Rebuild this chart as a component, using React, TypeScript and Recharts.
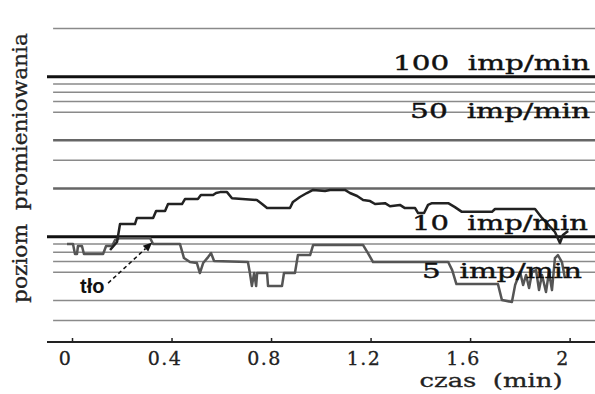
import React from "react";
import { LineChart, Line, XAxis, YAxis, ReferenceLine, Customized } from "recharts";

// czas (min) / poziom (imp/min) – radiation level
const sourceTime = [0.151, 0.179, 0.191, 0.251, 0.259, 0.324, 0.336, 0.372, 0.384, 0.44, 0.452, 0.504, 0.516, 0.565, 0.577, 0.593, 0.621, 0.641, 0.741, 0.762, 0.782, 0.874, 0.886, 0.914, 0.942, 0.967, 1.015, 1.035, 1.095, 1.115, 1.144, 1.168, 1.196, 1.216, 1.256, 1.276, 1.316, 1.336, 1.377, 1.389, 1.413, 1.429, 1.445, 1.51, 1.537, 1.565, 1.686, 1.698, 1.859, 1.887, 1.939, 1.959, 1.971, 1.992];
const sourceLevel = [8.26, 9.27, 12.0, 12.0, 13.1, 13.1, 14.5, 14.5, 16.0, 16.0, 17.2, 17.2, 18.2, 18.2, 18.75, 19.0, 19.0, 17.4, 16.95, 16.0, 15.1, 15.1, 16.5, 17.7, 18.75, 19.6, 19.3, 19.6, 19.6, 18.75, 17.97, 16.95, 16.7, 16.0, 16.2, 15.5, 15.8, 15.1, 15.1, 14.06, 14.06, 15.8, 16.2, 16.2, 15.3, 14.3, 14.3, 14.9, 14.9, 13.1, 10.7, 9.13, 10.25, 10.85];

// tło (background)
const backgroundTime = [-0.022, 0.002, 0.01, 0.018, 0.022, 0.038, 0.046, 0.123, 0.135, 0.159, 0.171, 0.191, 0.312, 0.324, 0.432, 0.448, 0.472, 0.5, 0.512, 0.525, 0.545, 0.557, 0.569, 0.705, 0.713, 0.721, 0.73, 0.738, 0.742, 0.782, 0.786, 0.842, 0.85, 0.894, 0.906, 0.955, 0.967, 1.023, 1.168, 1.185, 1.208, 1.51, 1.526, 1.543, 1.71, 1.726, 1.766, 1.779, 1.799, 1.811, 1.823, 1.835, 1.847, 1.863, 1.875, 1.887, 1.903, 1.915, 1.927, 1.939, 1.951, 1.967, 1.979];
const backgroundLevel = [9.0, 9.0, 7.8, 7.8, 8.75, 8.75, 7.8, 7.8, 8.75, 8.75, 9.54, 9.8, 9.8, 9.0, 9.0, 7.36, 6.95, 6.85, 5.93, 6.85, 7.46, 7.9, 7.05, 6.95, 5.93, 4.92, 5.93, 4.92, 5.93, 5.93, 4.92, 4.92, 5.93, 5.93, 7.68, 7.68, 8.87, 8.87, 8.87, 8.02, 6.95, 6.95, 6.19, 5.06, 5.06, 4.02, 3.91, 4.99, 6.02, 4.99, 5.77, 4.78, 6.02, 6.19, 4.64, 5.77, 4.51, 6.02, 4.64, 7.36, 7.68, 6.95, 5.52];

const xTicks = [0, 0.4, 0.8, 1.2, 1.6, 2];
const xTickLabels = ["0", "0.4", "0.8", "1.2", "1.6", "2"];

const thinLevels = [200, 90, 80, 70, 60, 30, 9, 8, 7, 6, 4, 3];
const mediumLevels = [40, 20];
const thickLevels = [100, 10];

const labelLevels = [100, 50, 10, 5];
const labelTexts = ["100  imp/min", "50  imp/min", "10  imp/min", "5  imp/min"];
const labelWidths = [197, 180, 176, 160];
const labelRightGaps = [5, 5, 7, 13];

const arrowFrom = { t: 0.143, v: 5.13 };
const arrowTo = { t: 0.32, v: 9.2 };

const sourceData = sourceTime.map((t, i) => ({ t, v: sourceLevel[i] }));
const backgroundData = backgroundTime.map((t, i) => ({ t, v: backgroundLevel[i] }));

const SERIF = "'DejaVu Serif', serif";
const GRID_START = -0.078;
const X_END = 2.1;

const XTick = (props: any) => {
  const { x, y, payload } = props;
  const idx = xTicks.indexOf(payload.value);
  const label = idx >= 0 ? xTickLabels[idx] : String(payload.value);
  return (
    <g>
      <line x1={x} x2={x} y1={y - 4} y2={y} stroke="#222" strokeWidth={1.5} />
      <text x={x - 7} y={y + 23} textAnchor="middle" fontFamily={SERIF} fontSize={19} letterSpacing={1.5} fill="#222" stroke="#222" strokeWidth={0.3}>
        {label}
      </text>
    </g>
  );
};

const Arrow = (props: any) => {
  const { x1, y1, x2, y2 } = props;
  const ang = Math.atan2(y2 - y1, x2 - x1);
  const len = 9;
  const w = 4;
  const bx = x2 - len * Math.cos(ang);
  const by = y2 - len * Math.sin(ang);
  const px = -Math.sin(ang) * w;
  const py = Math.cos(ang) * w;
  return (
    <g>
      <line x1={x1} y1={y1} x2={bx} y2={by} stroke="#111" strokeWidth={1.5} strokeDasharray="4 3" />
      <polygon points={`${x2},${y2} ${bx + px},${by + py} ${bx - px},${by - py}`} fill="#111" />
    </g>
  );
};

const Texts = () => (
  <g>
    <text
      x={27}
      y={168}
      transform="rotate(-90 27 168)"
      textAnchor="middle"
      fontFamily={SERIF}
      fontSize={20}
      textLength={270}
      lengthAdjust="spacingAndGlyphs"
      fill="#222"
      stroke="#222"
      strokeWidth={0.3}
      style={{ whiteSpace: "pre" }}
    >
      {"poziom  promieniowania"}
    </text>
    <text
      x={491}
      y={387}
      textAnchor="middle"
      fontFamily={SERIF}
      fontSize={18}
      textLength={143}
      lengthAdjust="spacingAndGlyphs"
      fill="#222"
      stroke="#222"
      strokeWidth={0.3}
      style={{ whiteSpace: "pre" }}
    >
      {"czas  (min)"}
    </text>
    <text x={80} y={293} fontFamily="'Liberation Sans', Arial, sans-serif" fontWeight="bold" fontSize={20} fill="#111">
      tło
    </text>
  </g>
);

export default function App() {
  return (
    <div style={{ position: "absolute", left: 0, top: 0, background: "#fff" }}>
      <LineChart width={595} height={394} margin={{ top: 11, right: 0, bottom: 0, left: 47 }}>
        <XAxis
          dataKey="t"
          type="number"
          domain={[-0.1025, X_END]}
          allowDataOverflow
          ticks={xTicks}
          interval={0}
          tickSize={0}
          tickMargin={0}
          tickLine={false}
          tick={<XTick />}
          height={52}
          axisLine={{ stroke: "#222", strokeWidth: 2 }}
        />
        <YAxis
          dataKey="v"
          type="number"
          scale="log"
          domain={[2.2, 257]}
          allowDataOverflow
          width={0}
          tick={false}
          tickLine={false}
          axisLine={{ stroke: "#666", strokeWidth: 1.5 }}
        />
        {thinLevels.map((v) => (
          <ReferenceLine
            key={`thin-${v}`}
            segment={[{ x: GRID_START, y: v }, { x: X_END, y: v }]}
            stroke="#8a8a8a"
            strokeWidth={1.5}
          />
        ))}
        {mediumLevels.map((v) => (
          <ReferenceLine
            key={`med-${v}`}
            segment={[{ x: GRID_START, y: v }, { x: X_END, y: v }]}
            stroke="#666"
            strokeWidth={2.5}
          />
        ))}
        {thickLevels.map((v) => (
          <ReferenceLine key={`thick-${v}`} y={v} stroke="#111" strokeWidth={3} />
        ))}
        <Line
          data={backgroundData}
          dataKey="v"
          type="linear"
          stroke="#555"
          strokeWidth={2.5}
          dot={false}
          isAnimationActive={false}
          strokeLinejoin="round"
        />
        <Line
          data={sourceData}
          dataKey="v"
          type="linear"
          stroke="#222"
          strokeWidth={2.5}
          dot={false}
          isAnimationActive={false}
          strokeLinejoin="round"
        />
        {labelLevels.map((v, i) => (
          <ReferenceLine
            key={`lab-${v}`}
            y={v}
            stroke="none"
            label={{
              content: (p: any) => {
                const vb = p.viewBox || {};
                return (
                  <text
                    x={vb.x + vb.width - labelRightGaps[i]}
                    y={vb.y - 7}
                    textAnchor="end"
                    fontFamily={SERIF}
                    fontSize={21}
                    textLength={labelWidths[i]}
                    lengthAdjust="spacingAndGlyphs"
                    fill="#111"
                    stroke="#111"
                    strokeWidth={0.4}
                    style={{ whiteSpace: "pre" }}
                  >
                    {labelTexts[i]}
                  </text>
                );
              },
            }}
          />
        ))}
        <ReferenceLine
          segment={[{ x: arrowFrom.t, y: arrowFrom.v }, { x: arrowTo.t, y: arrowTo.v }]}
          shape={<Arrow />}
        />
        <Customized component={Texts} />
      </LineChart>
    </div>
  );
}
